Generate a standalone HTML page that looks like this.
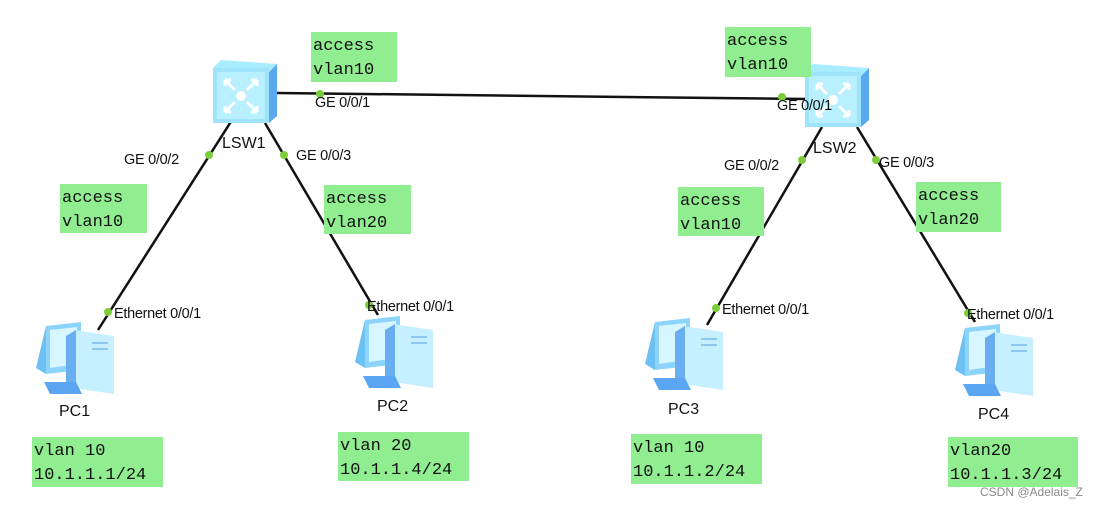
<!DOCTYPE html>
<html><head><meta charset="utf-8"><style>
body{margin:0;background:#fff}
svg{display:block}
.m{font-family:"Liberation Mono","DejaVu Sans Mono",monospace;font-size:17px;fill:#111}
.s{font-family:"Liberation Sans",Arial,sans-serif;font-size:14.5px;fill:#111;letter-spacing:-0.3px}
.p{font-family:"Liberation Sans",Arial,sans-serif;font-size:16px;fill:#111}
.b{fill:#90ee90}
</style></head><body>
<svg width="1115" height="507" viewBox="0 0 1115 507" xmlns="http://www.w3.org/2000/svg">
<defs>
<g id="sw">
<path d="M0 8 L8 0 L64 4 L56 12 Z" fill="#a8ecff"/>
<path d="M56 12 L64 4 L64 56 L56 63 Z" fill="#5aa8f0"/>
<rect x="0" y="8" width="56" height="55" fill="#9fe4fb"/>
<rect x="4" y="12" width="48" height="47" fill="#b8f0ff"/>
<circle cx="28" cy="36" r="5" fill="#fff"/>
<path d="M12 20 L22 30 M12 20 L18 20 M12 20 L12 26 M44 20 L34 30 M44 20 L38 20 M44 20 L44 26 M12 52 L22 42 M12 52 L18 52 M12 52 L12 46 M44 52 L34 42 M44 52 L38 52 M44 52 L44 46" stroke="#fff" stroke-width="3" fill="none"/>
</g>
<g id="pc">
<path d="M10 4 L45 0 L45 48 L10 52 Z" fill="#8cd4fb"/>
<path d="M14 8 L41 5 L41 42 L14 46 Z" fill="#d8f6ff"/>
<path d="M0 46 L10 4 L10 52 Z" fill="#6cc0f4"/>
<path d="M38 8 L78 14 L78 72 L38 66 Z" fill="#c6f0ff"/>
<path d="M30 14 L40 8 L40 70 L30 72 Z" fill="#6aaef2"/>
<path d="M8 60 L40 60 L46 72 L14 72 Z" fill="#5aa6f2"/>
<rect x="56" y="20" width="16" height="2" fill="#8cc8ee"/>
<rect x="56" y="26" width="16" height="2" fill="#8cc8ee"/>
</g>
</defs>
<g stroke="#111" stroke-width="2.5">
<line x1="277" y1="93" x2="805" y2="99"/>
<line x1="232" y1="120" x2="98" y2="330"/>
<line x1="265" y1="123" x2="378" y2="315"/>
<line x1="822" y1="127" x2="707" y2="325"/>
<line x1="857" y1="127" x2="975" y2="322"/>
</g>
<use href="#sw" x="213" y="60"/>
<use href="#sw" x="805" y="64"/>
<use href="#pc" x="36" y="322"/>
<use href="#pc" x="355" y="316"/>
<use href="#pc" x="645" y="318"/>
<use href="#pc" x="955" y="324"/>
<g fill="#7ccd3a">
<circle cx="320" cy="94" r="4"/><circle cx="782" cy="97" r="4"/>
<circle cx="209" cy="155" r="4"/><circle cx="284" cy="155" r="4"/>
<circle cx="108" cy="312" r="4"/><circle cx="369" cy="305" r="4"/>
<circle cx="802" cy="160" r="4"/><circle cx="876" cy="160" r="4"/>
<circle cx="716" cy="308" r="4"/><circle cx="968" cy="313" r="4"/>
</g>
<g class="s">
<text x="315" y="107">GE 0/0/1</text>
<text x="777" y="110">GE 0/0/1</text>
<text x="124" y="164">GE 0/0/2</text>
<text x="296" y="160">GE 0/0/3</text>
<text x="724" y="170">GE 0/0/2</text>
<text x="879" y="167">GE 0/0/3</text>
<text x="114" y="318">Ethernet 0/0/1</text>
<text x="367" y="311">Ethernet 0/0/1</text>
<text x="722" y="314">Ethernet 0/0/1</text>
<text x="967" y="319">Ethernet 0/0/1</text>
</g>
<g class="p">
<text x="222" y="148">LSW1</text>
<text x="813" y="153">LSW2</text>
<text x="59" y="416">PC1</text>
<text x="377" y="411">PC2</text>
<text x="668" y="414">PC3</text>
<text x="978" y="419">PC4</text>
</g>
<g class="b">
<rect x="311" y="32" width="86" height="50"/>
<rect x="60" y="184" width="87" height="49"/>
<rect x="324" y="185" width="87" height="49"/>
<rect x="725" y="27" width="86" height="50"/>
<rect x="678" y="187" width="86" height="49"/>
<rect x="916" y="182" width="85" height="50"/>
<rect x="32" y="437" width="131" height="50"/>
<rect x="338" y="432" width="131" height="49"/>
<rect x="631" y="434" width="131" height="50"/>
<rect x="948" y="437" width="130" height="50"/>
</g>
<g class="m">
<text x="313" y="50">access</text><text x="313" y="74">vlan10</text>
<text x="62" y="202">access</text><text x="62" y="226">vlan10</text>
<text x="326" y="203">access</text><text x="326" y="227">vlan20</text>
<text x="727" y="45">access</text><text x="727" y="69">vlan10</text>
<text x="680" y="205">access</text><text x="680" y="229">vlan10</text>
<text x="918" y="200">access</text><text x="918" y="224">vlan20</text>
<text x="34" y="455">vlan 10</text><text x="34" y="479">10.1.1.1/24</text>
<text x="340" y="450">vlan 20</text><text x="340" y="474">10.1.1.4/24</text>
<text x="633" y="452">vlan 10</text><text x="633" y="476">10.1.1.2/24</text>
<text x="950" y="455">vlan20</text><text x="950" y="479">10.1.1.3/24</text>
</g>
<text x="980" y="496" style="font-family:'Liberation Sans',sans-serif;font-size:12px;fill:#888">CSDN @Adelais_Z</text>
</svg>
</body></html>
